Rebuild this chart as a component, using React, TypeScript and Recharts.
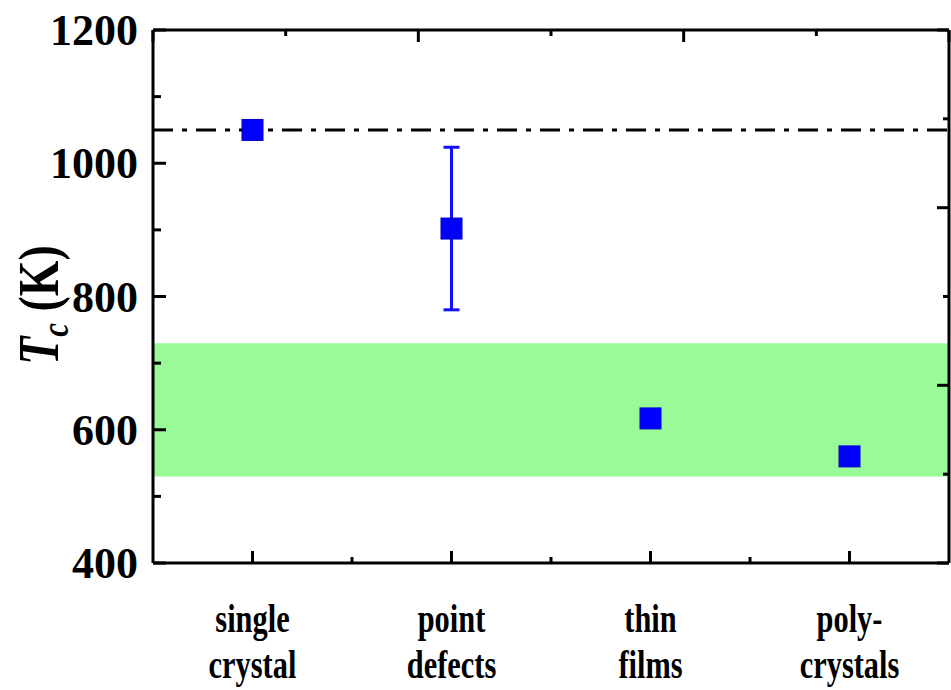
import {
  ComposedChart,
  Scatter,
  ErrorBar,
  XAxis,
  YAxis,
  ReferenceLine,
  ReferenceArea,
} from 'recharts';

// sample categories, each label split over two lines
const categories = ['single crystal', 'point defects', 'thin films', 'poly-crystals'];
const categoryLines = [
  ['single', 'crystal'],
  ['point', 'defects'],
  ['thin', 'films'],
  ['poly-', 'crystals'],
];

// Curie temperature Tc (K) and its spread
const tcValues = [1050, 902, 617, 560];
const tcErrors = [0, 122, 0, 0];

const bulkTc = 1050;
const bandLow = 530;
const bandHigh = 730;

const xTicks = [0, 0.5, 1, 1.5, 2, 2.5, 3];
const leftTicks = [400, 500, 600, 700, 800, 900, 1000, 1100, 1200];
const rightTicks = [400, 533.3, 666.7, 800, 933.3, 1066.7, 1200];

const data = categories.map((name, i) => ({
  name,
  x: i,
  tc: tcValues[i],
  err: tcErrors[i],
}));

const FONT = "'Liberation Serif', 'Times New Roman', serif";
const AXIS = { stroke: '#000', strokeWidth: 3 };

function BottomTick(props: any) {
  const { x, y, payload } = props;
  const v = payload.value as number;
  const major = Number.isInteger(v);
  return (
    <g>
      <line x1={x} x2={x} y1={y} y2={y - (major ? 12 : 6)} stroke="#000" strokeWidth={3} />
      {major && (
        <g transform={`translate(${x},${y}) scale(0.76,1)`}>
          {categoryLines[v].map((line, k) => (
            <text
              key={k}
              x={0}
              y={69 + k * 46}
              textAnchor="middle"
              fontFamily={FONT}
              fontWeight="bold"
              fontSize={40}
              fill="#000"
            >
              {line}
            </text>
          ))}
        </g>
      )}
    </g>
  );
}

function TopTick(props: any) {
  const { x, y, payload } = props;
  const major = Number.isInteger(payload.value);
  return <line x1={x} x2={x} y1={y} y2={y + (major ? 12 : 6)} stroke="#000" strokeWidth={3} />;
}

function LeftTick(props: any) {
  const { x, y, payload } = props;
  const v = payload.value as number;
  const major = v % 200 === 0;
  return (
    <g>
      <line x1={x} x2={x + (major ? 13 : 8)} y1={y} y2={y} stroke="#000" strokeWidth={3} />
      {major && (
        <text
          x={x - 15}
          y={y + 15}
          textAnchor="end"
          fontFamily={FONT}
          fontWeight="bold"
          fontSize={44}
          fill="#000"
        >
          {v}
        </text>
      )}
    </g>
  );
}

function RightTick(props: any) {
  const { x, y, payload } = props;
  const major = rightTicks.indexOf(payload.value) % 2 === 0;
  return <line x1={x} x2={x - (major ? 12 : 6)} y1={y} y2={y} stroke="#000" strokeWidth={3} />;
}

function SquareMarker(props: any) {
  const { cx, cy } = props;
  if (cx == null || cy == null) return null;
  return <rect x={cx - 10.5} y={cy - 10.5} width={21} height={21} fill="#0000ff" stroke="#0000c8" strokeWidth={1} />;
}

export default function App() {
  return (
    <div style={{ position: 'absolute', left: 0, top: 0, background: '#fff' }}>
      <ComposedChart
        width={951}
        height={690}
        data={data}
        margin={{ top: 20, right: 0, bottom: 0, left: 13 }}
      >
        <ReferenceArea y1={bandLow} y2={bandHigh} fill="#98fb98" fillOpacity={1} stroke="none" />
        <ReferenceLine y={bulkTc} stroke="#000" strokeWidth={3} strokeDasharray="20 9 5 9" />
        <XAxis
          dataKey="x"
          type="number"
          domain={[-0.5, 3.5]}
          ticks={xTicks}
          interval={0}
          height={127}
          axisLine={AXIS}
          tickLine={false}
          tickSize={0}
          tickMargin={0}
          tick={(p: any) => <BottomTick {...p} />}
        />
        <XAxis
          xAxisId="top"
          orientation="top"
          type="number"
          domain={[-0.5, 3.5]}
          ticks={xTicks}
          interval={0}
          height={10}
          axisLine={AXIS}
          tickLine={false}
          tickSize={0}
          tickMargin={0}
          tick={(p: any) => <TopTick {...p} />}
        />
        <YAxis
          type="number"
          domain={[400, 1200]}
          ticks={leftTicks}
          interval={0}
          width={140}
          axisLine={AXIS}
          tickLine={false}
          tickSize={0}
          tickMargin={0}
          tick={(p: any) => <LeftTick {...p} />}
        />
        <YAxis
          yAxisId="right"
          orientation="right"
          type="number"
          domain={[400, 1200]}
          allowDataOverflow
          ticks={rightTicks}
          interval={0}
          width={2}
          axisLine={AXIS}
          tickLine={false}
          tickSize={0}
          tickMargin={0}
          tick={(p: any) => <RightTick {...p} />}
        />
        <Scatter dataKey="tc" shape={<SquareMarker />} isAnimationActive={false}>
          <ErrorBar dataKey="err" direction="y" width={8} stroke="#1010ff" strokeWidth={3} isAnimationActive={false} />
        </Scatter>
        <text
          transform="translate(58,305) rotate(-90) scale(0.82,1)"
          textAnchor="middle"
          fontFamily={FONT}
          fontWeight="bold"
          fontSize={56}
          fill="#000"
        >
          <tspan fontStyle="italic">T</tspan>
          <tspan fontStyle="italic" fontSize={38} dy={10}>c</tspan>
          <tspan dy={-10}> (K)</tspan>
        </text>
      </ComposedChart>
    </div>
  );
}
